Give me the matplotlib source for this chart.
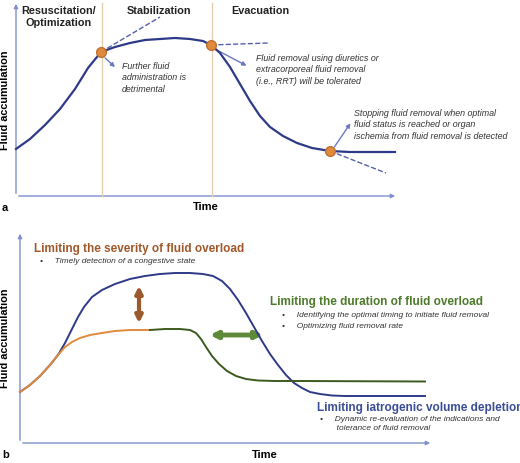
import matplotlib
matplotlib.use("Agg")
import matplotlib.pyplot as plt
from matplotlib.patches import FancyArrowPatch

plt.rcParams['font.family'] = ['Liberation Sans', 'DejaVu Sans']

# Panel a curve (pixel coords)
a_x = [16, 30, 45, 60, 75, 88, 101, 115, 130, 145, 160, 175, 190, 203, 211, 220, 230, 240, 250, 260, 270, 283, 297, 312, 330, 350, 395]
a_y = [150, 140, 126, 110, 90, 69, 53, 48, 44, 41, 40, 39, 40, 42, 46, 54, 68, 85, 102, 117, 128, 137, 144, 149, 152, 153, 153]
dots_a = [(101, 53), (211, 46), (330, 152)]
phases = ["Resuscitation/\nOptimization", "Stabilization", "Evacuation"]
phase_x = [59, 159, 260]
# Panel b curves
b_blue_x = [20, 30, 40, 50, 58, 65, 72, 78, 84, 92, 102, 115, 130, 145, 160, 175, 190, 203, 213, 222, 230, 238, 246, 254, 262, 270, 278, 286, 294, 302, 310, 320, 332, 345, 365, 425]
b_blue_y = [393, 386, 377, 366, 356, 344, 330, 318, 308, 298, 291, 285, 280, 277, 275, 274, 274, 275, 277, 282, 290, 301, 314, 328, 342, 355, 366, 376, 384, 389, 393, 395, 396.5, 397, 397, 397]
b_or_x = [20, 30, 40, 50, 58, 65, 72, 80, 90, 102, 115, 130, 150]
b_or_y = [393, 386, 377, 366, 356, 348, 343, 339, 336, 334, 332, 331, 331]
b_gr_x = [150, 165, 180, 190, 196, 201, 206, 212, 219, 227, 236, 246, 258, 275, 300, 425]
b_gr_y = [331, 330, 330, 331, 334, 340, 348, 357, 365, 372, 377, 380, 381.5, 382, 382, 382.5]

fig = plt.figure(figsize=(5.2, 4.64), dpi=100)
ax = fig.add_axes([0, 0, 1, 1])
ax.set_xlim(0, 520); ax.set_ylim(464, 0); ax.axis('off')

BL = '#2e3a87'; TAN = '#e3cfae'; OR = '#e08a3c'
ax_col = '#7f8fcf'
def arr(x0, y0, x1, y1, c=ax_col, lw=1, hs=6, style='-|>'):
    ax.add_patch(FancyArrowPatch((x0, y0), (x1, y1), arrowstyle=style, mutation_scale=hs, color=c, lw=lw))

# Panel a
arr(16, 197, 16, 2); arr(16, 197, 398, 197)
for x in [102, 212]:
    ax.plot([x, x], [4, 197], color=TAN, lw=1)
ax.plot(a_x, a_y, color=BL, lw=1.6)
ax.plot([101, 160], [53, 18], '--', color='#5560a8', lw=1)
ax.plot([211, 268], [46, 44], '--', color='#5560a8', lw=1)
ax.plot([330, 386], [152, 174], '--', color='#5560a8', lw=1)
for x, y in dots_a:
    ax.plot(x, y, 'o', ms=7, color=OR, mec='#c07030')
arr(103, 57, 117, 70, c='#6a78c0'); arr(213, 49, 249, 68, c='#6a78c0'); arr(333, 150, 352, 122, c='#6a78c0')
for t, x in zip(phases, phase_x):
    ax.text(x, 6, t, ha='center', va='top', fontsize=7.8, fontweight='bold', color='#222')
it = dict(fontsize=6.4, style='italic', color='#333', va='top', linespacing=1.35)
ax.text(122, 62, "Further fluid\nadministration is\ndetrimental", **it)
ax.text(256, 54, "Fluid removal using diuretics or\nextracorporeal fluid removal\n(i.e., RRT) will be tolerated", **it)
ax.text(354, 109, "Stopping fluid removal when optimal\nfluid status is reached or organ\nischemia from fluid removal is detected", **it)
ax.text(206, 207, "Time", ha='center', va='center', fontsize=8, fontweight='bold')
ax.text(2, 208, "a", va='center', fontsize=8, fontweight='bold')
ax.text(5, 100, "Fluid accumulation", rotation=90, ha='center', va='center', fontsize=7.8, fontweight='bold')

# Panel b
arr(20, 444, 20, 232); arr(20, 444, 433, 444)
ax.plot(b_blue_x, b_blue_y, color=BL, lw=1.4)
ax.plot(b_or_x, b_or_y, color=OR, lw=1.4)
ax.plot(b_gr_x, b_gr_y, color='#3d5a1e', lw=1.4)
arr(139, 284, 139, 327, c='#9a5a2e', lw=3, hs=10, style='<|-|>')
arr(207, 336, 266, 336, c='#5f8a3a', lw=3.5, hs=10, style='<|-|>')
ax.text(34, 249, "Limiting the severity of fluid overload", fontsize=8.5, fontweight='bold', color='#a0582a', va='center')
ax.text(40, 262, "•     Timely detection of a congestive state", fontsize=6, style='italic', color='#333', va='center')
ax.text(270, 302, "Limiting the duration of fluid overload", fontsize=8.5, fontweight='bold', color='#4d7a2a', va='center')
ax.text(282, 316, "•     Identifying the optimal timing to initiate fluid removal", fontsize=6, style='italic', color='#333', va='center')
ax.text(282, 327, "•     Optimizing fluid removal rate", fontsize=6, style='italic', color='#333', va='center')
ax.text(317, 408, "Limiting iatrogenic volume depletion", fontsize=8.5, fontweight='bold', color='#3a4d96', va='center')
ax.text(320, 416, "•     Dynamic re-evaluation of the indications and\n       tolerance of fluid removal", fontsize=6, style='italic', color='#333', va='top', linespacing=1.35)
ax.text(265, 455, "Time", ha='center', va='center', fontsize=8, fontweight='bold')
ax.text(2, 455, "b", va='center', fontsize=8, fontweight='bold')
ax.text(5, 338, "Fluid accumulation", rotation=90, ha='center', va='center', fontsize=7.8, fontweight='bold')

fig.savefig("out.png", dpi=100)
